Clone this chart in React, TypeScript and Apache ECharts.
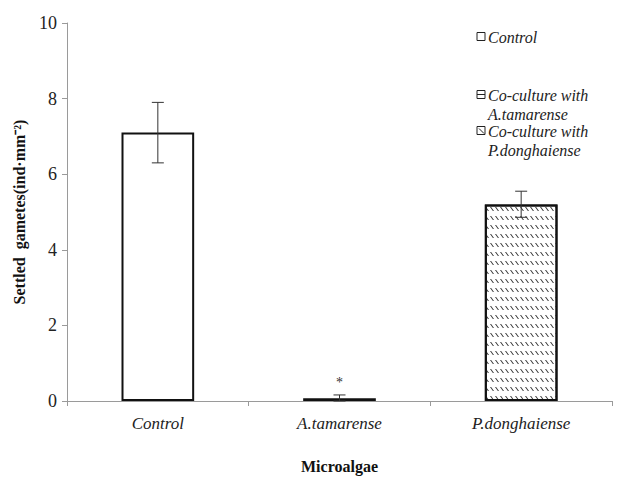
import React, { useEffect, useRef } from "react";
import * as echarts from "echarts";

const categories = ["Control", "A.tamarense", "P.donghaiense"];
const seriesNames = ["Control", "Co-culture with A.tamarense", "Co-culture with P.donghaiense"];
const means = [7.1, 0.07, 5.2];
const errLow = [6.3, 0.0, 4.86];
const errHigh = [7.9, 0.16, 5.55];
const significance = ["", "*", ""];
const yTicks = [0, 2, 4, 6, 8, 10];

const SERIF = "Times New Roman";

export default function App() {
  const ref = useRef<HTMLDivElement>(null);
  useEffect(() => {
    if (!ref.current) return;
    const chart = echarts.init(ref.current, null, { renderer: "svg" });
    const fills = ["#ffffff", "#111111", "#ffffff"];
    const hatch = {
      symbol: "path://M0,0L1.4,0L5,4L3.6,4Z",
      symbolSize: 1,
      symbolKeepAspect: false,
      dashArrayX: [4, 1],
      dashArrayY: [4, 5],
      color: "#333333",
      backgroundColor: "#ffffff",
      rotation: 0,
    };

    const barSeries = categories.map((cat, i) => ({
      name: seriesNames[i],
      type: "bar",
      barWidth: "40%",
      barGap: "-100%",
      data: categories.map((_, j) => (j === i ? means[i] : "-")),
      itemStyle: i === 2
        ? { color: fills[i], borderColor: "#111", borderWidth: 2, decal: hatch }
        : { color: fills[i], borderColor: "#111", borderWidth: 2 },
      silent: true,
    }));

    const errData = categories.map((_, i) => [i, errLow[i], errHigh[i], i]);

    const legendItems = [
      { y: 37, lines: ["Control"], kind: 0 },
      { y: 95, lines: ["Co-culture with", "A.tamarense"], kind: 1 },
      { y: 131, lines: ["Co-culture with", "P.donghaiense"], kind: 2 },
    ];
    const graphics: any[] = [];
    legendItems.forEach((it) => {
      const ix = 477, iy = it.y - 4.5;
      graphics.push({ type: "rect", shape: { x: ix, y: iy, width: 8, height: 8 }, style: { fill: "#fff", stroke: "#222", lineWidth: 1 } });
      if (it.kind === 1) graphics.push({ type: "line", shape: { x1: ix, y1: iy + 4, x2: ix + 8, y2: iy + 4 }, style: { stroke: "#222", lineWidth: 1 } });
      if (it.kind === 2) graphics.push({ type: "line", shape: { x1: ix + 2, y1: iy + 2, x2: ix + 7, y2: iy + 7 }, style: { stroke: "#222", lineWidth: 1 } });
      it.lines.forEach((t, k) => {
        graphics.push({
          type: "text",
          x: 488,
          y: it.y + k * 19,
          style: { text: t, fontFamily: SERIF, fontStyle: "italic", fontSize: 16, fill: "#222", verticalAlign: "middle", align: "left" },
        });
      });
    });

    chart.setOption({
      animation: false,
      backgroundColor: "#ffffff",
      textStyle: { fontFamily: SERIF },
      grid: { left: 67, right: 17, top: 23, bottom: 75 },
      xAxis: {
        type: "category",
        data: categories,
        name: "Microalgae",
        nameLocation: "middle",
        nameGap: 57,
        nameTextStyle: { fontFamily: SERIF, fontWeight: "bold", fontSize: 16, color: "#111" },
        axisLine: { lineStyle: { color: "#9a9a9a", width: 1 } },
        axisTick: { show: true, inside: false, length: 5, lineStyle: { color: "#9a9a9a" } },
        axisLabel: { fontFamily: SERIF, fontStyle: "italic", fontSize: 17, color: "#222", margin: 14 },
      },
      yAxis: {
        type: "value",
        min: yTicks[0],
        max: yTicks[yTicks.length - 1],
        interval: 2,
        name: "Settled  gametes(ind·mm\u207B\u00B2)",
        nameLocation: "middle",
        nameGap: 40,
        nameTextStyle: { fontFamily: SERIF, fontWeight: "bold", fontSize: 16, color: "#111" },
        axisLine: { show: true, lineStyle: { color: "#9a9a9a", width: 1 } },
        axisTick: { show: true, length: 5, lineStyle: { color: "#9a9a9a" } },
        axisLabel: { fontFamily: SERIF, fontSize: 18, color: "#222", margin: 10 },
        splitLine: { show: false },
      },
      series: [
        ...barSeries,
        {
          type: "custom",
          silent: true,
          data: errData,
          encode: { x: 0, y: [1, 2] },
          renderItem: (params: any, api: any) => {
            const x = api.value(0);
            const lo = api.coord([x, api.value(1)]);
            const hi = api.coord([x, api.value(2)]);
            const idx = api.value(3);
            const cap = 6;
            const style = { stroke: "#333", lineWidth: 1 };
            const children: any[] = [
              { type: "line", shape: { x1: hi[0], y1: hi[1], x2: lo[0], y2: lo[1] }, style },
              { type: "line", shape: { x1: hi[0] - cap, y1: hi[1], x2: hi[0] + cap, y2: hi[1] }, style },
              { type: "line", shape: { x1: lo[0] - cap, y1: lo[1], x2: lo[0] + cap, y2: lo[1] }, style },
            ];
            if (significance[idx]) {
              children.push({
                type: "text",
                x: hi[0],
                y: hi[1] - 12,
                style: { text: significance[idx], fontFamily: SERIF, fontSize: 14, fill: "#333", align: "center", verticalAlign: "middle" },
              });
            }
            return { type: "group", children };
          },
          z: 5,
        },
      ],
      graphic: graphics,
    } as any);
    return () => chart.dispose();
  }, []);
  return <div ref={ref} style={{ width: 629, height: 479, position: "absolute", left: 0, top: 0 }} />;
}
